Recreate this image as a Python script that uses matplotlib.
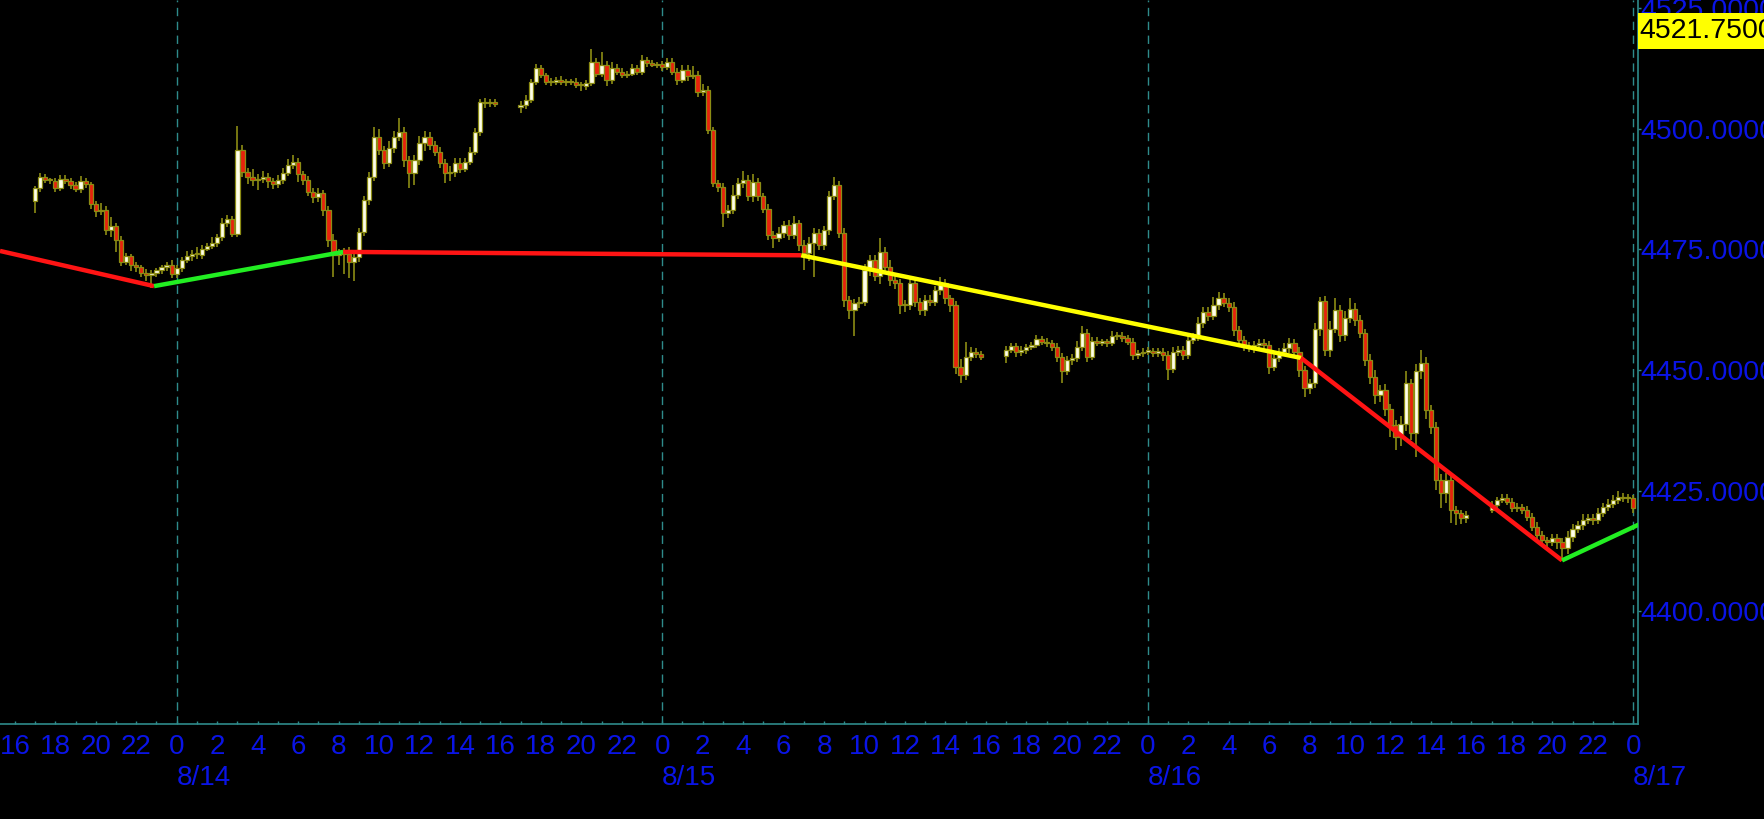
import matplotlib
matplotlib.use("Agg")
import matplotlib.pyplot as plt
import numpy as np
from matplotlib.patches import Rectangle
from matplotlib.ticker import FixedLocator, FuncFormatter, NullFormatter

plt.rcParams['font.family'] = ['Liberation Sans', 'DejaVu Sans']

# ---------------- data ----------------
# x in hours from 8/14 00:00 ; 15-minute bars ; four sessions
session_start = [-7.0, 17.0, 41.0, 65.0]
session_open = [4485.0, 4504.5, 4453.0, 4421.0]

s1_close = [4487.7, 4490.0, 4489.4, 4489.2, 4487.7, 4489.7, 4489.3, 4488.4, 4487.5, 4489.3,
            4488.6, 4484.4, 4483.0, 4483.2, 4479.0, 4479.9, 4477.0, 4472.5, 4473.6, 4471.8,
            4471.3, 4470.2, 4469.7, 4470.2, 4470.7, 4471.3, 4471.7, 4470.0, 4471.1, 4472.9,
            4473.6, 4474.0, 4473.8, 4475.2, 4475.8, 4476.4, 4477.5, 4480.6, 4481.4, 4478.3,
            4495.6, 4491.1, 4490.1, 4489.4, 4489.7, 4490.0, 4489.2, 4488.5, 4489.4, 4490.9,
            4492.5, 4493.2, 4490.6, 4489.4, 4487.0, 4485.9, 4486.8, 4483.2, 4477.0, 4473.8,
            4474.3, 4474.0, 4472.5, 4473.5, 4478.7, 4485.3, 4490.1, 4498.4, 4495.6, 4492.9,
            4496.0, 4498.4, 4499.4, 4493.6, 4490.8, 4493.6, 4497.0, 4498.4, 4496.7, 4495.3,
            4492.9, 4490.8, 4491.1, 4492.9, 4491.8, 4493.2, 4495.3, 4499.4, 4505.7, 4505.3,
            4505.7, 4505.2]
s1_up = [0.5, 0.8, 0.6, 0.5, 0.6, 0.7, 0.8, 0.5, 0.6, 0.9,
         0.6, 0.5, 0.7, 1.5, 0.8, 1.8, 0.6, 0.7, 0.6, 0.5,
         0.6, 0.5, 0.7, 0.6, 0.5, 0.5, 0.8, 1.2, 0.6, 0.5,
         1.0, 0.8, 1.5, 0.7, 0.6, 1.2, 0.8, 0.9, 0.7, 0.5,
         5.0, 1.0, 0.8, 1.5, 1.0, 1.2, 0.8, 0.6, 1.0, 1.0,
         1.2, 1.5, 0.8, 0.6, 0.8, 0.7, 0.9, 0.6, 0.8, 1.2,
         0.9, 1.0, 1.5, 1.2, 0.8, 0.7, 1.0, 2.0, 1.5, 0.8,
         1.5, 1.2, 2.8, 1.0, 0.8, 1.0, 1.5, 1.2, 0.9, 0.8,
         1.0, 0.9, 1.2, 1.0, 1.0, 0.8, 0.9, 0.8, 0.6, 0.8,
         0.6, 0.5]
s1_dn = [2.5, 0.8, 0.6, 0.6, 0.8, 0.6, 0.7, 0.8, 0.6, 0.7,
         0.8, 1.0, 1.2, 0.8, 1.0, 1.5, 2.5, 1.0, 0.8, 1.2,
         0.9, 1.0, 1.2, 2.7, 1.0, 0.8, 0.7, 1.0, 0.9, 0.7,
         0.6, 1.0, 0.8, 0.7, 0.6, 0.7, 0.8, 0.7, 0.9, 0.7,
         0.8, 1.0, 1.5, 1.2, 2.0, 1.0, 1.5, 1.0, 0.8, 0.8,
         0.6, 0.8, 1.5, 1.0, 0.8, 1.2, 1.0, 1.2, 1.5, 4.5,
         2.0, 4.0, 3.5, 4.0, 1.0, 0.8, 1.0, 0.8, 1.0, 1.2,
         0.8, 1.0, 0.9, 1.5, 3.0, 2.5, 1.0, 1.5, 1.0, 0.8,
         1.0, 2.0, 1.5, 1.0, 1.0, 0.8, 0.7, 0.6, 0.8, 1.0,
         0.8, 0.6]

s2_close = [4505.0, 4506.0, 4509.8, 4512.6, 4511.2, 4509.8, 4509.8, 4510.2, 4509.8, 4509.8,
            4509.8, 4509.1, 4508.9, 4509.5, 4514.0, 4511.5, 4513.3, 4510.2, 4512.6, 4511.9,
            4511.2, 4511.5, 4512.6, 4511.9, 4514.3, 4513.6, 4513.3, 4513.5, 4512.9, 4514.0,
            4511.9, 4510.2, 4512.2, 4510.9, 4511.2, 4507.7, 4508.1, 4499.8, 4488.7, 4488.0,
            4482.5, 4483.2, 4486.3, 4488.7, 4489.4, 4486.0, 4489.1, 4486.0, 4483.5, 4478.0,
            4477.3, 4478.4, 4480.1, 4478.0, 4480.4, 4475.9, 4474.2, 4476.3, 4478.4, 4475.9,
            4479.0, 4486.0, 4488.4, 4478.4, 4464.5, 4462.5, 4463.8, 4464.2, 4470.7, 4472.8,
            4469.4, 4474.5, 4471.4, 4468.7, 4468.0, 4463.5, 4463.5, 4468.0, 4464.2, 4462.5,
            4464.5, 4464.2, 4466.6, 4468.0, 4464.9, 4463.5, 4450.7, 4449.0, 4452.8, 4453.8,
            4453.3, 4452.8]
s2_up = [0.8, 1.0, 0.6, 0.8, 0.6, 0.5, 0.7, 0.6, 0.8, 0.6,
         0.6, 0.8, 0.6, 0.7, 2.5, 0.8, 2.7, 0.8, 1.2, 0.8,
         0.7, 0.6, 0.8, 0.6, 1.0, 0.6, 0.8, 0.5, 0.6, 0.8,
         0.7, 0.8, 1.0, 1.0, 1.8, 0.8, 1.2, 0.8, 0.6, 0.7,
         0.8, 1.0, 2.0, 1.2, 1.8, 1.0, 1.5, 0.8, 0.8, 0.9,
         0.8, 1.2, 0.9, 1.0, 1.5, 0.8, 1.0, 1.2, 1.0, 0.9,
         0.8, 1.2, 1.7, 0.8, 1.0, 0.8, 1.0, 0.9, 1.2, 1.0,
         1.0, 2.8, 1.0, 1.5, 0.8, 0.9, 1.0, 1.2, 1.0, 0.8,
         1.0, 1.0, 0.9, 1.2, 0.8, 0.7, 0.8, 1.5, 3.0, 1.0,
         0.8, 0.7]
s2_dn = [1.2, 0.8, 0.7, 0.6, 0.7, 0.6, 0.8, 0.7, 0.6, 0.8,
         0.7, 0.6, 1.0, 0.8, 0.6, 0.8, 0.7, 1.2, 0.8, 0.7,
         0.6, 0.7, 0.6, 0.8, 0.6, 0.7, 0.5, 0.6, 0.8, 0.7,
         0.8, 1.0, 0.7, 1.0, 0.6, 1.0, 0.8, 0.8, 0.8, 1.0,
         2.8, 1.0, 0.9, 0.8, 1.0, 1.0, 1.2, 1.0, 0.9, 1.0,
         2.0, 0.8, 1.0, 1.0, 0.9, 1.2, 3.5, 1.5, 7.0, 1.0,
         1.0, 0.9, 0.8, 1.0, 1.5, 2.0, 5.5, 1.0, 1.0, 1.2,
         1.0, 1.5, 1.0, 1.2, 1.2, 1.8, 1.5, 1.0, 1.2, 1.0,
         1.2, 1.0, 1.0, 1.0, 1.2, 1.5, 1.5, 1.8, 1.0, 1.0,
         0.8, 0.7]

s3_close = [4454.2, 4455.0, 4453.8, 4454.1, 4454.7, 4455.2, 4456.4, 4455.9, 4455.5, 4454.8,
            4452.8, 4449.7, 4452.1, 4452.4, 4454.8, 4457.6, 4452.8, 4456.1, 4455.7, 4455.7,
            4455.5, 4457.1, 4457.1, 4456.6, 4455.9, 4453.1, 4453.5, 4453.8, 4453.9, 4453.6,
            4453.8, 4453.1, 4450.3, 4453.8, 4454.2, 4453.1, 4456.2, 4456.9, 4459.7, 4462.1,
            4461.1, 4463.5, 4464.9, 4464.0, 4463.1, 4458.3, 4456.2, 4454.8, 4454.8, 4455.2,
            4455.5, 4455.2, 4450.7, 4452.4, 4453.8, 4454.5, 4455.5, 4453.8, 4450.0, 4446.2,
            4447.2, 4458.6, 4464.4, 4454.2, 4458.6, 4462.4, 4457.3, 4460.7, 4462.6, 4460.4,
            4457.6, 4452.1, 4448.6, 4444.8, 4445.8, 4442.0, 4438.6, 4436.2, 4438.9, 4447.2,
            4436.9, 4449.7, 4451.4, 4441.7, 4438.2, 4427.2, 4424.4, 4427.2, 4421.0, 4420.3,
            4419.2, 4419.9]
s3_up = [0.8, 0.7, 0.6, 0.8, 0.7, 0.6, 0.9, 0.7, 0.8, 0.7,
         0.8, 0.7, 0.8, 1.0, 1.2, 1.5, 1.0, 0.8, 0.7, 0.8,
         0.7, 0.9, 0.8, 0.8, 0.7, 0.8, 0.6, 0.7, 0.8, 0.6,
         0.7, 0.8, 0.8, 0.9, 0.7, 0.8, 1.0, 0.8, 1.2, 0.9,
         1.0, 1.7, 1.2, 1.0, 0.9, 1.0, 0.9, 0.8, 1.0, 0.8,
         0.9, 1.0, 0.8, 1.0, 0.8, 1.0, 1.2, 0.9, 1.0, 0.8,
         1.0, 1.2, 0.8, 1.0, 1.5, 2.5, 1.0, 1.5, 2.3, 1.2,
         1.0, 1.0, 1.2, 1.5, 1.0, 1.2, 1.0, 1.0, 1.5, 2.5,
         1.0, 1.5, 2.7, 1.2, 1.0, 1.0, 1.2, 1.5, 1.0, 0.8,
         0.7, 0.8]
s3_dn = [1.6, 0.7, 1.0, 0.8, 0.7, 0.6, 0.7, 0.8, 0.7, 0.8,
         1.2, 2.5, 0.8, 1.0, 0.8, 0.9, 1.2, 0.8, 0.7, 0.8,
         0.7, 0.6, 0.8, 0.7, 0.8, 1.0, 0.8, 0.9, 0.7, 0.8,
         0.9, 1.2, 2.4, 1.0, 0.8, 1.0, 0.9, 0.8, 0.9, 1.0,
         1.0, 0.8, 1.0, 0.9, 1.0, 1.2, 1.0, 0.9, 1.0, 1.2,
         1.0, 0.8, 1.5, 1.0, 0.8, 0.9, 1.0, 1.2, 1.5, 1.7,
         1.2, 1.0, 1.5, 1.2, 1.5, 1.0, 1.5, 1.2, 1.0, 1.2,
         1.0, 1.2, 1.5, 1.8, 1.5, 1.5, 2.5, 2.8, 2.0, 1.5,
         1.5, 4.9, 1.5, 1.8, 1.5, 2.0, 3.0, 2.0, 2.8, 2.5,
         1.2, 1.0]

s4_close = [4422.0, 4423.0, 4423.4, 4422.7, 4421.3, 4421.6, 4421.0, 4419.6, 4417.5, 4415.8,
            4414.7, 4414.4, 4415.1, 4414.4, 4413.0, 4415.4, 4417.1, 4417.8, 4418.9, 4419.2,
            4418.9, 4420.3, 4421.6, 4422.3, 4423.0, 4423.7, 4423.4, 4423.4, 4421.3]
s4_up = [0.8, 0.7, 0.9, 0.8, 0.7, 0.8, 0.7, 0.8, 0.7, 0.9,
         0.8, 0.7, 0.9, 0.8, 0.7, 1.2, 1.0, 0.8, 1.2, 1.0,
         0.9, 1.0, 0.8, 0.9, 1.0, 1.2, 0.8, 0.9, 0.7]
s4_dn = [0.7, 0.8, 0.6, 0.7, 0.8, 0.7, 0.8, 0.9, 1.0, 1.2,
         1.0, 1.2, 1.0, 1.5, 2.6, 1.2, 1.0, 0.9, 1.0, 0.8,
         1.0, 0.9, 0.8, 0.8, 0.9, 0.8, 0.7, 0.9, 1.0]

# zigzag overlay (hours, price) and segment colours
zz_t = [-8.735, -1.12, 8.23, 30.87, 55.58, 68.48, 72.3]
zz_v = [4474.7, 4467.4, 4474.5, 4473.8, 4452.5, 4410.5, 4418.0]
zz_colors = ['#ff1414', '#22ee22', '#ff1414', '#ffff00', '#ff1414', '#22ee22']

y_ticks = [4400, 4425, 4450, 4475, 4500, 4525]
day_pos = [0, 24, 48, 72]
day_labels = ['8/14', '8/15', '8/16', '8/17']
marker_label = '4521.7500'

# ---------------- build OHLC ----------------
closes = [s1_close, s2_close, s3_close, s4_close]
ups = [s1_up, s2_up, s3_up, s4_up]
dns = [s1_dn, s2_dn, s3_dn, s4_dn]
T, O, H, L, C = [], [], [], [], []
for st, op, cl, uw, dw in zip(session_start, session_open, closes, ups, dns):
    cl = np.array(cl)
    o = np.concatenate([[op], cl[:-1]])
    t = st + 0.25 * np.arange(len(cl))
    T.append(t); O.append(o); C.append(cl)
    H.append(np.maximum(o, cl) + np.array(uw))
    L.append(np.minimum(o, cl) - np.array(dw))
T = np.concatenate(T); O = np.concatenate(O); C = np.concatenate(C)
H = np.concatenate(H); L = np.concatenate(L)

# ---------------- figure ----------------
W, Hpx = 1765, 819
fig = plt.figure(figsize=(W / 100, Hpx / 100), dpi=100, facecolor='black')
ax = fig.add_axes([0, 1 - 724 / Hpx, 1637.7 / W, 724 / Hpx])
ax.set_facecolor('black')

teal = '#2e8b8b'
olive = '#8c8c14'
upfill = '#ffffe8'
dnfill = '#e8220c'
blue = '#0a14e6'

for d in day_pos:
    ax.axvline(d, color=teal, lw=1.0, ls=(0, (6, 4)), zorder=1)

ax.vlines(T, L, H, color=olive, lw=1.2, zorder=2)
isup = C >= O
body = np.where(np.abs(C - O) < 0.25, 0.25, C - O)
ax.bar(T[isup], body[isup], bottom=O[isup], width=0.21, color=upfill,
       edgecolor=olive, linewidth=0.9, zorder=3)
ax.bar(T[~isup], body[~isup], bottom=O[~isup], width=0.21, color=dnfill,
       edgecolor=olive, linewidth=0.9, zorder=3)

for i, col in enumerate(zz_colors):
    ax.plot(zz_t[i:i + 2], zz_v[i:i + 2], color=col, lw=3.2, zorder=4,
            solid_capstyle='butt')

ax.set_xlim(-8.735, 72.22)
ax.set_ylim(4376.56, 4526.76)

for s in ['left', 'top']:
    ax.spines[s].set_visible(False)
for s in ['right', 'bottom']:
    ax.spines[s].set_color(teal)
    ax.spines[s].set_linewidth(1.2)

ax.yaxis.tick_right()
ax.set_yticks(y_ticks)
ax.yaxis.set_major_formatter(FuncFormatter(lambda v, p: f'{v:.4f}'))
ax.tick_params(axis='y', colors=teal, labelcolor=blue, labelsize=20.5,
               length=2, width=1, pad=0, direction='out')

major = list(range(-8, 73, 2))
minor = list(range(-7, 72, 2))
ax.xaxis.set_major_locator(FixedLocator(major))
ax.xaxis.set_minor_locator(FixedLocator(minor))
ax.xaxis.set_major_formatter(FuncFormatter(lambda v, p: f'{int(round(v)) % 24}'))
ax.xaxis.set_minor_formatter(NullFormatter())
ax.tick_params(axis='x', which='both', colors=teal, labelcolor=blue,
               labelsize=20, length=2.5, width=1, direction='in', pad=7.5)

for d, lab in zip(day_pos, day_labels):
    ax.text(d, -54 / 724, lab, transform=ax.get_xaxis_transform(), color=blue,
            fontsize=20, ha='left', va='center', clip_on=False)

# yellow price marker at top right
fig.patches.append(Rectangle((1637.7 / W, 1 - 49.3 / Hpx), (W - 1637.7) / W, 36.6 / Hpx,
                             transform=fig.transFigure, facecolor='#ffff00',
                             edgecolor='none', zorder=10))
fig.text(1639 / W, 1 - 31.5 / Hpx, marker_label, color='black', fontsize=20.5,
         ha='left', va='center', zorder=11)

fig.savefig('out.png', dpi=100, facecolor='black')
